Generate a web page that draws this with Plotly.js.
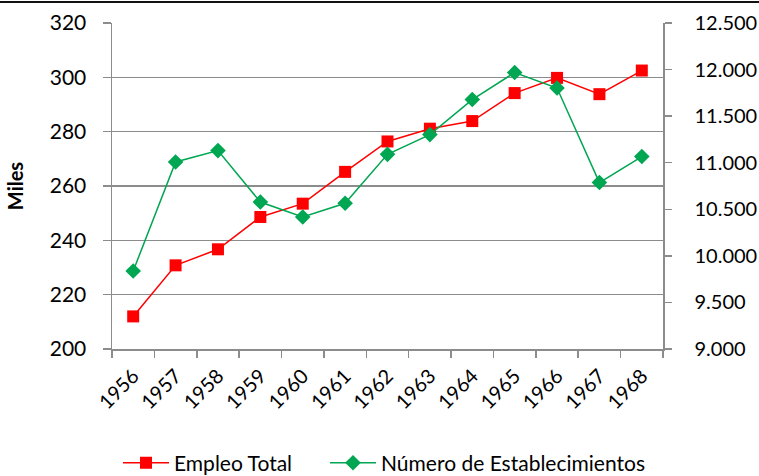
<!DOCTYPE html>
<html>
<head>
<meta charset="utf-8">
<script src="https://cdn.plot.ly/plotly-3.0.1.min.js"></script>
<style>
html,body{margin:0;padding:0;background:#fff;}
#topline{position:absolute;left:0;top:1px;width:759px;height:2px;background:#111;}
#chart{width:759px;height:476px;}
</style>
</head>
<body>
<div id="chart"></div>
<div id="topline"></div>
<script>
const years = ['1956','1957','1958','1959','1960','1961','1962','1963','1964','1965','1966','1967','1968'];
const empleoTotal = [212, 230.8, 236.7, 248.6, 253.5, 265.2, 276.4, 281.1, 283.9, 294.2, 299.8, 293.8, 302.5];
const establecimientos = [9837, 11008, 11130, 10578, 10417, 10564, 11090, 11302, 11678, 11968, 11802, 10787, 11066];
const leftTicks = [200, 220, 240, 260, 280, 300, 320];
const rightTicks = [9000, 9500, 10000, 10500, 11000, 11500, 12000, 12500];

const FONT = 'Lato, "Open Sans", sans-serif';
const GRID = '#8c8c8c';

const traces = [
  {
    x: years, y: empleoTotal, name: 'Empleo Total', type: 'scatter', mode: 'lines+markers',
    line: {color: '#ff0000', width: 1.5},
    marker: {symbol: 'square', size: 12, color: '#ff0000'},
    yaxis: 'y', legend: 'legend'
  },
  {
    x: years, y: establecimientos, name: 'Número de Establecimientos', type: 'scatter', mode: 'lines+markers',
    line: {color: '#00a651', width: 1.5},
    marker: {symbol: 'diamond', size: 12, color: '#00a651'},
    yaxis: 'y2', legend: 'legend2'
  }
];

const legendBase = {
  orientation: 'h', xanchor: 'left', xref: 'container',
  y: 0.027, yanchor: 'middle', yref: 'container',
  font: {family: FONT, size: 21, color: '#000'}, itemwidth: 46
};

const layout = {
  width: 759, height: 476,
  margin: {l: 112, r: 96, t: 23, b: 127, pad: 0},
  paper_bgcolor: '#fff', plot_bgcolor: '#fff',
  separators: ',.',
  font: {family: FONT, size: 21, color: '#000'},
  showlegend: true,
  legend: Object.assign({}, legendBase, {x: 118 / 759}),
  legend2: Object.assign({}, legendBase, {x: 325 / 759}),
  xaxis: {
    type: 'category', tickson: 'boundaries', tickangle: -45, automargin: false,
    range: [-0.5, 12.5],
    showline: true, linecolor: GRID, linewidth: 1.5,
    ticks: 'outside', ticklen: 7, tickcolor: GRID, tickwidth: 1.5,
    showgrid: false, zeroline: false, ticklabelstandoff: 6,
    tickfont: {family: FONT, size: 20}
  },
  yaxis: {
    range: [200, 320], tickvals: leftTicks, automargin: false,
    showline: true, linecolor: GRID, linewidth: 1.5,
    ticks: 'outside', ticklen: 8, tickcolor: GRID, tickwidth: 1.5,
    showgrid: true, gridcolor: GRID, gridwidth: 1.5, zeroline: false,
    ticklabelstandoff: 12,
    tickfont: {family: FONT, size: 21},
    title: {text: '<b>Miles</b>', font: {family: FONT, size: 20}, standoff: 21}
  },
  yaxis2: {
    overlaying: 'y', side: 'right', range: [9000, 12500], tickvals: rightTicks, automargin: false,
    tickformat: ',d',
    showline: true, linecolor: GRID, linewidth: 1.5,
    ticks: 'outside', ticklen: 7, tickcolor: GRID, tickwidth: 1.5,
    showgrid: false, zeroline: false, ticklabelstandoff: 19,
    tickfont: {family: FONT, size: 20}
  }
};

Plotly.newPlot('chart', traces, layout, {displayModeBar: false, staticPlot: true});
</script>
</body>
</html>
